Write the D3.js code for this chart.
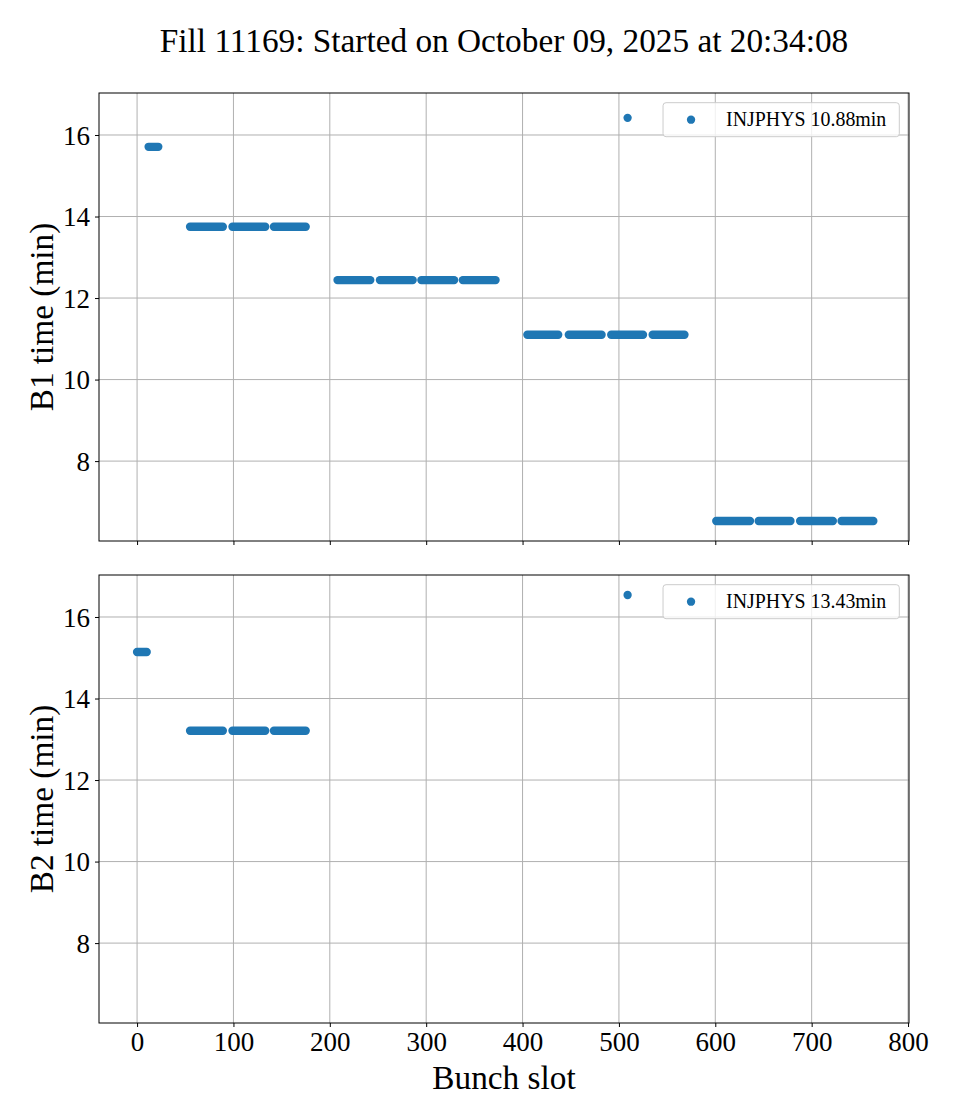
<!DOCTYPE html>
<html>

<head>
    <meta charset="UTF-8">
    <style>
        body {
            margin: 0;
            background-color: #ffffff;
        }

        #chart text {
            font-family: "Liberation Serif", "DejaVu Serif", serif;
            fill: #000000;
        }
    </style>
    <title>Fill 11169</title>
</head>

<body>

    <svg id="chart" width="960" height="1120"></svg>

    <script src="https://cdn.jsdelivr.net/npm/d3@7"></script>

    <script>
        const titleText = "Fill 11169: Started on October 09, 2025 at 20:34:08";

        // trains: [first bunch slot, last bunch slot, time (min)]
        const b1Trains = [
            [12, 22, 15.71],
            [55, 89, 13.75], [99, 133, 13.75], [142, 175, 13.75],
            [208, 242, 12.44], [252, 286, 12.44], [295, 329, 12.44], [338, 372, 12.44],
            [405, 437, 11.10], [448, 482, 11.10], [492, 525, 11.10], [535, 568, 11.10],
            [601, 636, 6.53], [645, 678, 6.53], [688, 722, 6.53], [731, 764, 6.53]
        ];
        const b2Trains = [
            [0, 10, 15.14],
            [55, 89, 13.21], [99, 133, 13.21], [142, 175, 13.21]
        ];

        // single bunches: [bunch slot, time (min)]
        const b1Single = [[509, 16.42]];
        const b2Single = [[509, 16.54]];

        const legendLabels = ["INJPHYS 10.88min", "INJPHYS 13.43min"];
        const yLabels = ["B1 time (min)", "B2 time (min)"];
        const xLabel = "Bunch slot";

        const xTicks = [0, 100, 200, 300, 400, 500, 600, 700, 800];
        const yTicks = [8, 10, 12, 14, 16];
        const xLimits = [-39.5, 801];
        const yLimits = [6.04, 17.03];

        let left = 99, right = 909, panelHeight = 448;
        let blue = "#1f77b4", gridColor = "#b0b0b0";
        let markerR = 4.17;
        let tickFont = 27;

        let svg = d3.select("#chart");

        let x = d3.scaleLinear().domain(xLimits).range([left, right]);

        let panels = [
            { trains: b1Trains, single: b1Single, legend: legendLabels[0], ylabel: yLabels[0], top: 93, showX: false },
            { trains: b2Trains, single: b2Single, legend: legendLabels[1], ylabel: yLabels[1], top: 575, showX: true }
        ];

        svg.append("text")
            .attr("x", (left + right) / 2)
            .attr("y", 52)
            .attr("text-anchor", "middle")
            .attr("font-size", 33.3)
            .text(titleText);

        function drawPanel(p) {
            let bottom = p.top + panelHeight;
            let y = d3.scaleLinear().domain(yLimits).range([bottom, p.top]);
            let g = svg.append("g");

            // grid
            g.selectAll(".gx").data(xTicks).enter().append("line")
                .attr("x1", d => x(d)).attr("x2", d => x(d))
                .attr("y1", p.top).attr("y2", bottom)
                .attr("stroke", gridColor).attr("stroke-width", 1);
            g.selectAll(".gy").data(yTicks).enter().append("line")
                .attr("x1", left).attr("x2", right)
                .attr("y1", d => y(d)).attr("y2", d => y(d))
                .attr("stroke", gridColor).attr("stroke-width", 1);

            // bunch trains: consecutive markers merge into a capsule
            g.selectAll(".train").data(p.trains).enter().append("line")
                .attr("x1", d => x(d[0])).attr("x2", d => x(d[1]))
                .attr("y1", d => y(d[2])).attr("y2", d => y(d[2]))
                .attr("stroke", blue)
                .attr("stroke-width", markerR * 2)
                .attr("stroke-linecap", "round");

            g.selectAll(".single").data(p.single).enter().append("circle")
                .attr("cx", d => x(d[0]))
                .attr("cy", d => y(d[1]))
                .attr("r", markerR)
                .attr("fill", blue);

            // axes
            let yAxis = g.append("g")
                .attr("transform", `translate(${left},0)`)
                .call(d3.axisLeft(y).tickValues(yTicks).tickSizeOuter(0).tickSize(4).tickPadding(5));
            yAxis.attr("font-size", tickFont).attr("font-family", null);
            yAxis.select(".domain").remove();
            yAxis.selectAll("text").attr("dy", "0.34em");

            let xAxis = g.append("g")
                .attr("transform", `translate(0,${bottom})`)
                .call(d3.axisBottom(x).tickValues(xTicks).tickSizeOuter(0).tickSize(4).tickPadding(5)
                    .tickFormat(p.showX ? d3.format("d") : ""));
            xAxis.attr("font-size", tickFont).attr("font-family", null);
            xAxis.select(".domain").remove();
            xAxis.selectAll("text").attr("dy", "0.72em");

            g.append("rect")
                .attr("x", left).attr("y", p.top)
                .attr("width", right - left).attr("height", panelHeight)
                .attr("fill", "none")
                .attr("stroke", "#000")
                .attr("stroke-width", 1);

            g.append("text")
                .attr("transform", `translate(53,${(p.top + bottom) / 2}) rotate(-90)`)
                .attr("text-anchor", "middle")
                .attr("font-size", 33.3)
                .text(p.ylabel);

            // legend, upper right
            let fs = 19.9;
            let lg = g.append("g");
            let box = lg.append("rect");
            let label = lg.append("text")
                .attr("font-size", fs)
                .text(p.legend);
            let textW = label.node().getComputedTextLength();
            let boxW = 63 + textW + 13;
            let boxH = 34;
            let bx = right - 9.7 - boxW;
            let by = p.top + 9.7;
            box.attr("x", bx).attr("y", by)
                .attr("width", boxW).attr("height", boxH)
                .attr("rx", 3)
                .attr("fill", "#ffffff").attr("fill-opacity", 0.8)
                .attr("stroke", "#cccccc").attr("stroke-width", 1);
            lg.append("circle")
                .attr("cx", bx + 28)
                .attr("cy", by + boxH / 2)
                .attr("r", markerR)
                .attr("fill", blue);
            label.attr("x", bx + 63)
                .attr("y", by + boxH / 2 + 6.6);

            return bottom;
        }

        panels.forEach(p => { drawPanel(p); });

        svg.append("text")
            .attr("x", (left + right) / 2)
            .attr("y", 1089)
            .attr("text-anchor", "middle")
            .attr("font-size", 33.3)
            .text(xLabel);
    </script>
</body>

</html>
